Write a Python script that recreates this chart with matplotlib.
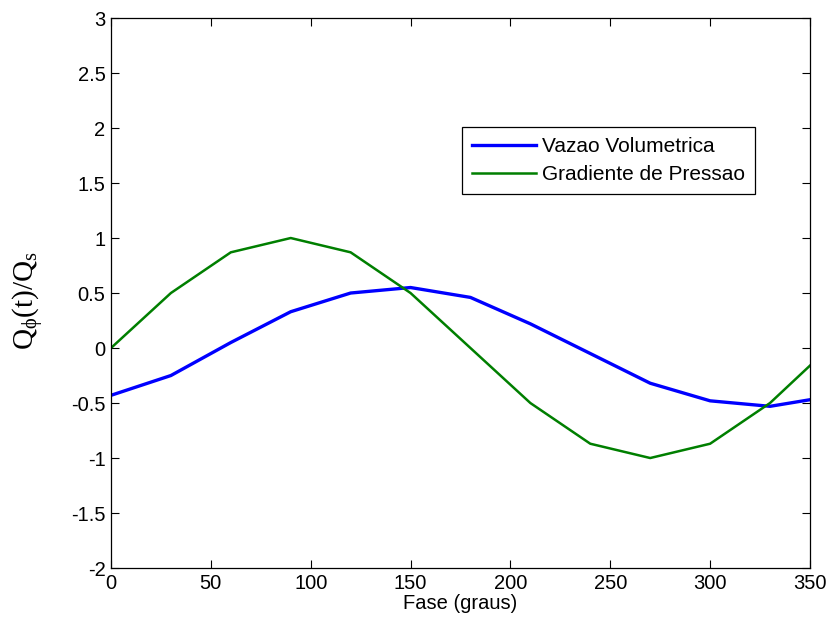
import matplotlib
matplotlib.use("Agg")
import matplotlib.pyplot as plt

fase = [0, 30, 60, 90, 120, 150, 180, 210, 240, 270, 300, 330, 350]
vazao = [-0.43, -0.25, 0.05, 0.33, 0.50, 0.55, 0.46, 0.22, -0.05, -0.32, -0.48, -0.53, -0.47]
gradiente = [0.0, 0.5, 0.87, 1.0, 0.87, 0.5, 0.0, -0.5, -0.87, -1.0, -0.87, -0.5, -0.16]
xticks = [0, 50, 100, 150, 200, 250, 300, 350]
yticks = [-2, -1.5, -1, -0.5, 0, 0.5, 1, 1.5, 2, 2.5, 3]
yticklabels = ['-2', '-1.5', '-1', '-0.5', '0', '0.5', '1', '1.5', '2', '2.5', '3']

plt.rcParams['font.family'] = ['Liberation Sans', 'DejaVu Sans']
plt.rcParams['mathtext.fontset'] = 'custom'
plt.rcParams['mathtext.rm'] = 'Liberation Serif'
plt.rcParams['mathtext.it'] = 'Liberation Serif:italic'

fig = plt.figure(figsize=(8.27, 6.28), dpi=100)
ax = fig.add_axes([0.1342, 0.0955, 0.8452, 0.8758])

ax.plot(fase, vazao, color='#0000ff', lw=2.4, label='Vazao Volumetrica')
ax.plot(fase, gradiente, color='#007f00', lw=1.8, label='Gradiente de Pressao')

ax.set_xlim(0, 350)
ax.set_ylim(-2, 3)
ax.set_xticks(xticks)
ax.set_yticks(yticks)
ax.set_yticklabels(yticklabels)
ax.tick_params(direction='in', top=True, right=True, length=6, width=0.8,
               labelsize=14.5, colors='black', pad=4)
for s in ax.spines.values():
    s.set_linewidth(0.9)

ax.set_xlabel('Fase (graus)', fontsize=14.5, labelpad=1)
ax.set_ylabel(r'$\mathrm{Q_{\phi}(t)/Q_s}$', fontsize=21)
ax.yaxis.set_label_coords(-0.093, 0.487)

leg = ax.legend(loc='upper right', bbox_to_anchor=(0.921, 0.801), fontsize=15,
                frameon=True, fancybox=False, edgecolor='black', framealpha=1,
                handlelength=3.1, borderpad=0.45, labelspacing=0.45, handletextpad=0.3,
                borderaxespad=0)
leg.get_frame().set_linewidth(0.9)

fig.savefig('out.png', dpi=100)
